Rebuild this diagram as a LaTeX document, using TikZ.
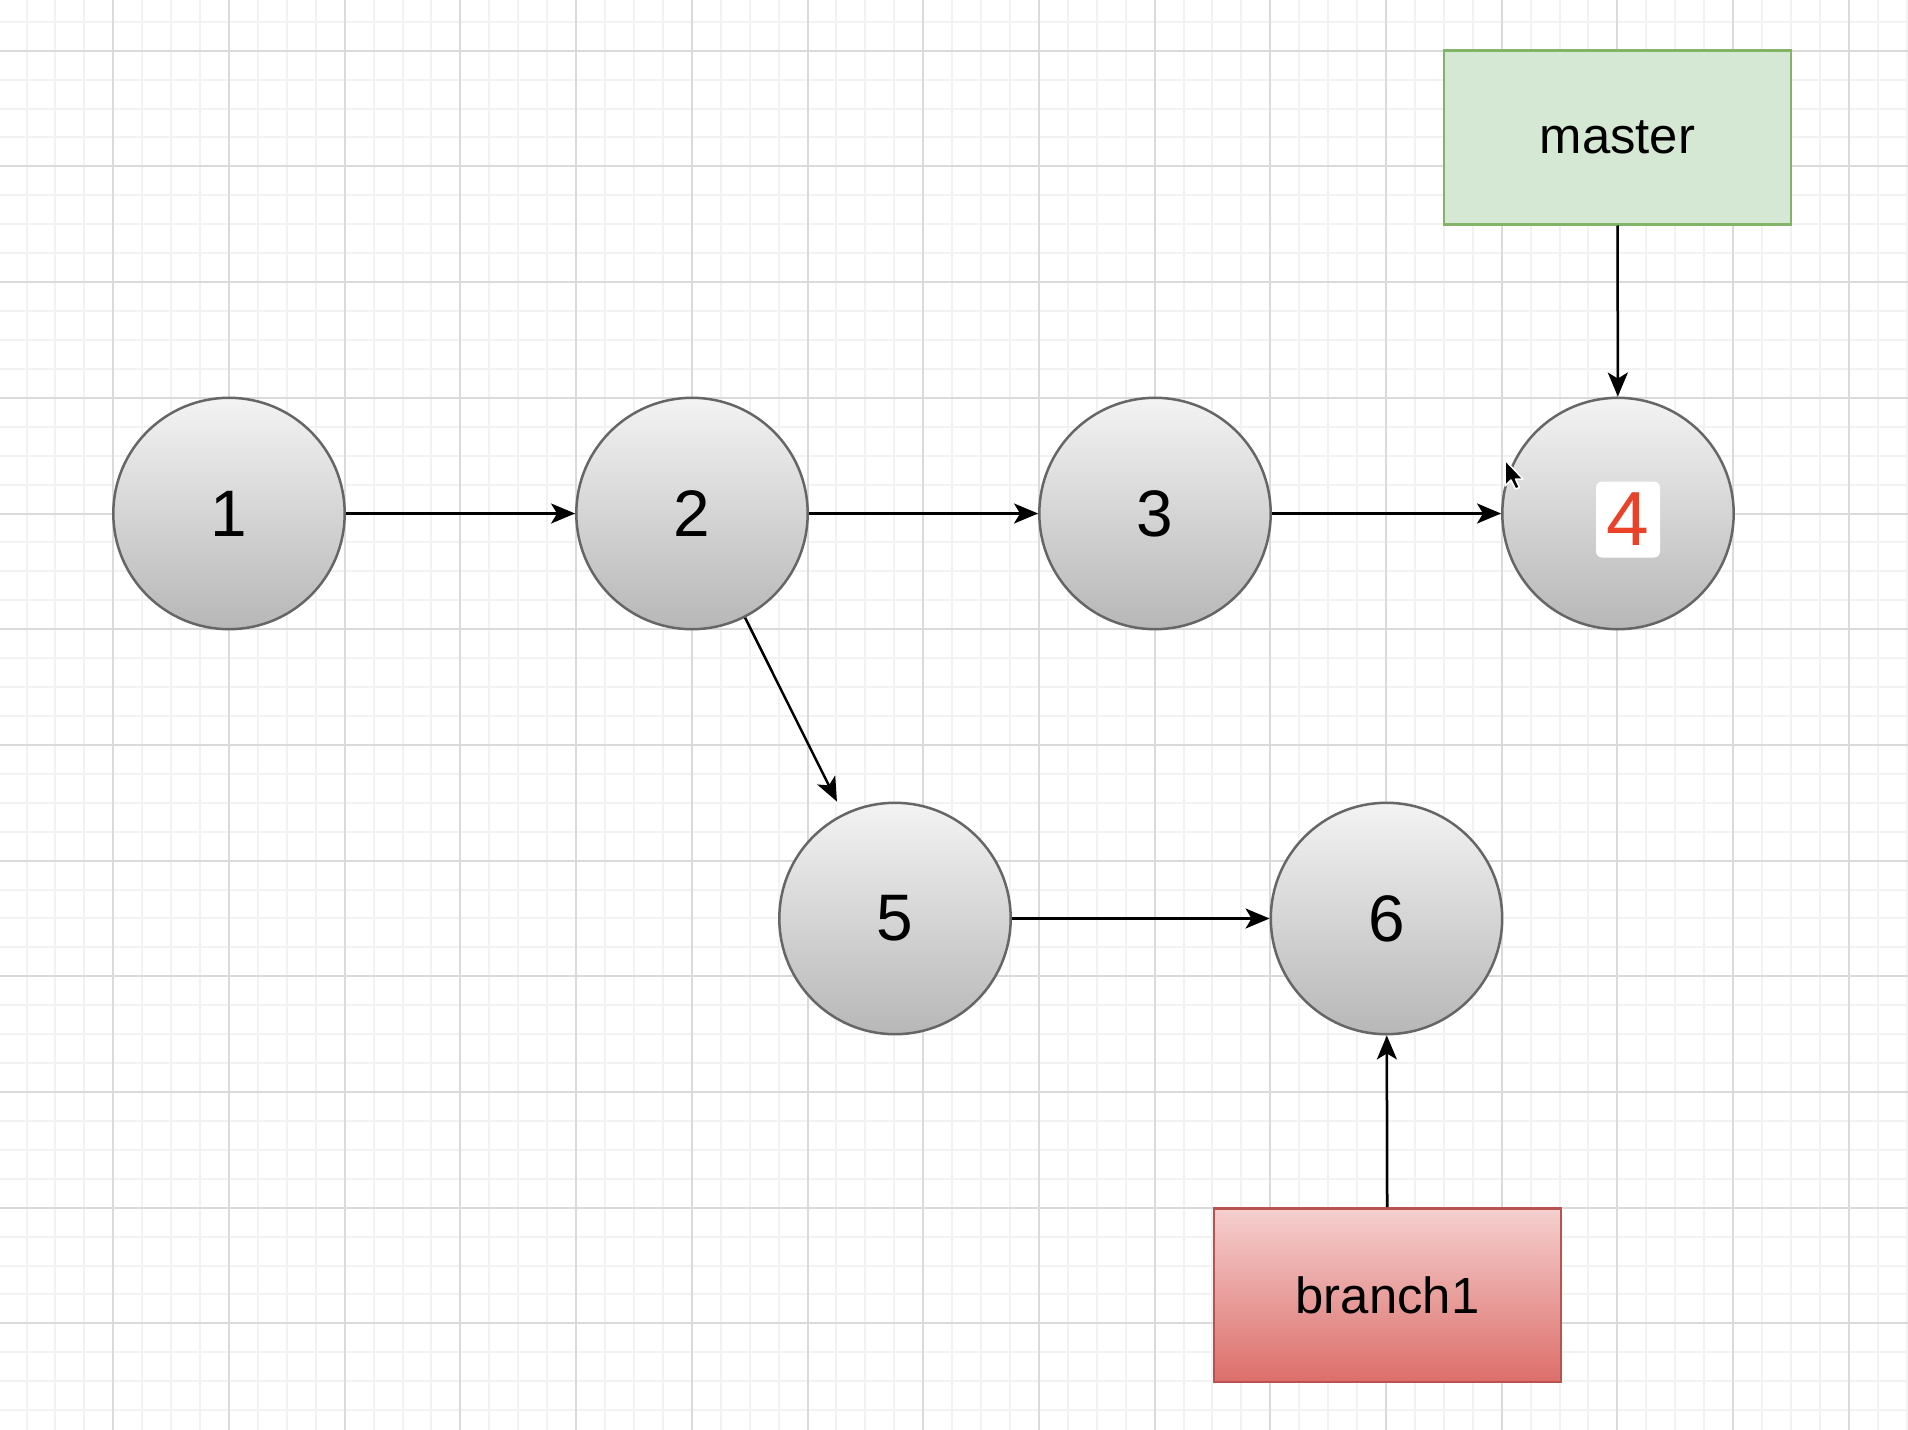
\documentclass[tikz,border=0pt]{standalone}
\usepackage{fontspec}
\setmainfont{Liberation Sans}
\usetikzlibrary{arrows.meta,calc}
\definecolor{gridminor}{RGB}{242,242,242}
\definecolor{gridmajor}{RGB}{218,218,218}
\definecolor{circtop}{RGB}{243,243,243}
\definecolor{circbot}{RGB}{183,183,183}
\definecolor{circline}{RGB}{102,102,102}
\definecolor{mfill}{RGB}{213,232,212}
\definecolor{mline}{RGB}{130,179,102}
\definecolor{btop}{RGB}{245,208,207}
\definecolor{bbot}{RGB}{220,110,106}
\definecolor{bline}{RGB}{184,84,80}
\definecolor{redfour}{RGB}{233,66,41}
\tikzset{
  commit/.style={circle, draw=circline, line width=2.5bp, top color=circtop, bottom color=circbot,
    minimum size=231.4bp, inner sep=0pt, font=\fontsize{66}{70}\selectfont},
  branchbox/.style={rectangle, line width=2.5bp, minimum width=347bp, minimum height=173.5bp,
    inner sep=0pt, font=\fontsize{51}{56}\selectfont},
  link/.style={line width=2.5bp, draw=black, -{Stealth[length=24bp,width=20bp,inset=6bp]}},
  minorline/.style={draw=gridminor, line width=2bp},
  majorline/.style={draw=gridmajor, line width=2bp},
}
\begin{document}
\begin{tikzpicture}[x=1bp,y=-1bp]
\useasboundingbox (0,0) rectangle (1908,1430);
\fill[white] (0,0) rectangle (1908,1430);
\begin{scope}
\clip (0,0) rectangle (1908,1430);
\foreach \i in {-4,...,63} \draw[minorline] ({113.3+\i*28.925},0) -- ++(0,1430);
\foreach \i in {-2,...,48} \draw[minorline] (0,{50.7+\i*28.925}) -- ++(1908,0);
\foreach \i in {-1,...,16} \draw[majorline] ({113.3+\i*115.7},0) -- ++(0,1430);
\foreach \i in {-1,...,12} \draw[majorline] (0,{50.7+\i*115.7}) -- ++(1908,0);
\end{scope}

\node[commit] (c1) at (229.0,513.5) {1};
\node[commit] (c2) at (692.0,513.5) {2};
\node[commit] (c3) at (1155.0,513.5) {3};
\node[commit] (c4) at (1618.0,513.5) {};
\node[fill=white, rounded corners=6bp, minimum width=64bp, minimum height=76bp, inner sep=0pt,
  text=redfour, font=\fontsize{77}{80}\selectfont] (l4) at (1628,519.5) {4};
\node[commit] (c5) at (895.0,918.5) {5};
\node[commit] (c6) at (1386.5,918.5) {6};

\node[branchbox, draw=mline, fill=mfill] (master) at (1617.5,137.5) {master};
\node[branchbox, draw=bline, top color=btop, bottom color=bbot] (branch1) at (1387.5,1295) {branch1};

\coordinate (e5) at ($(c5.center)+(116.4:130.6bp)$);

\draw[link] (c1) -- (c2);
\draw[link] (c2) -- (c3);
\draw[link] (c3) -- (c4);
\draw[link] (c2.-63) -- (e5);
\draw[link] (c5) -- (c6);
\draw[link] (master) -- (c4);
\draw[link] (branch1) -- (c6);

% mouse cursor
\draw[fill=black, draw=white, line width=1.5bp, line join=round]
  (1505,460) -- ++(0,26) -- ++(6,-6) -- ++(4.5,9) -- ++(4,-1.5) -- ++(-4,-8.5) -- ++(7.5,0) -- cycle;
\end{tikzpicture}
\end{document}
